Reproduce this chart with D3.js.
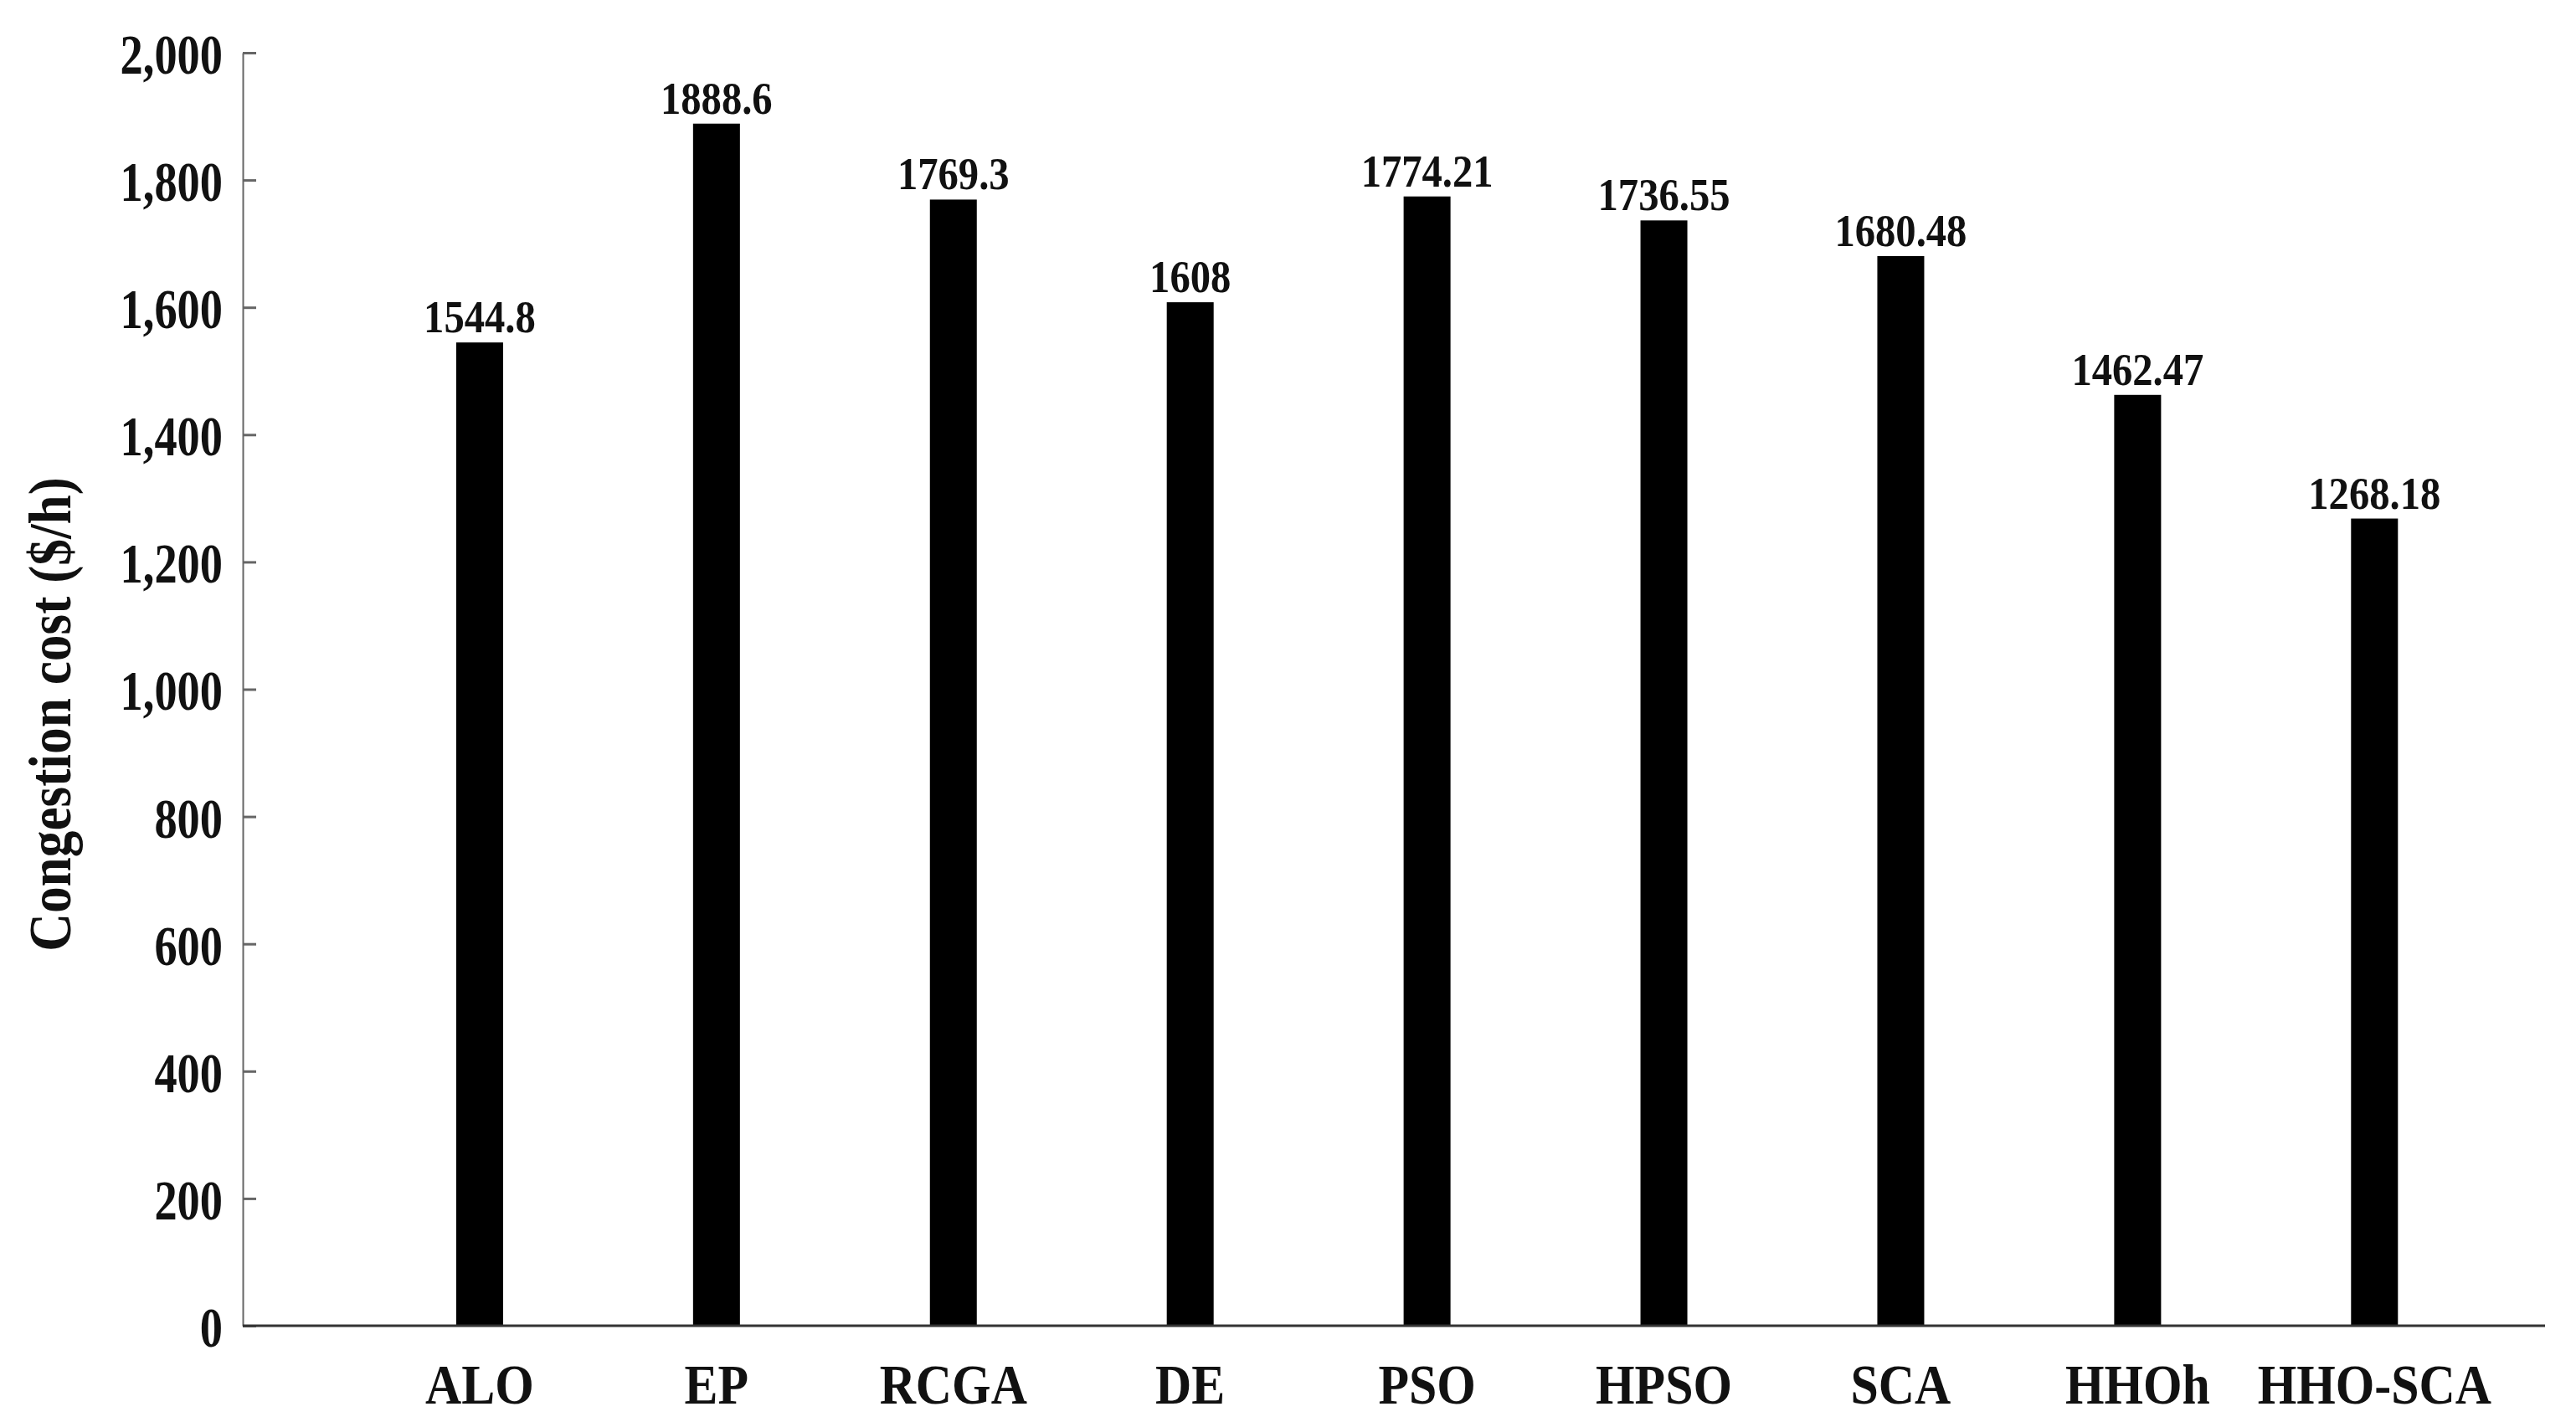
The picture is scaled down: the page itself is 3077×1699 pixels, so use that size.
<!DOCTYPE html>
<html>
<head>
<meta charset="utf-8">
<script src="https://cdn.jsdelivr.net/npm/d3@7"></script>
<style>
body { margin: 0; background: #fff; }
text { font-family: "Liberation Serif", "Times New Roman", serif; font-weight: bold; fill: #111; }
</style>
</head>
<body>
<svg id="chart" width="3077" height="1699"></svg>
<script>
const categories = ["ALO", "EP", "RCGA", "DE", "PSO", "HPSO", "SCA", "HHOh", "HHO-SCA"]
const costs = [1544.8, 1888.6, 1769.3, 1608, 1774.21, 1736.55, 1680.48, 1462.47, 1268.18]
const costLabels = ["1544.8", "1888.6", "1769.3", "1608", "1774.21", "1736.55", "1680.48", "1462.47", "1268.18"]
const yTicks = [0, 200, 400, 600, 800, 1000, 1200, 1400, 1600, 1800, 2000]

const svg = d3.select("#chart")
const x = d3.scaleLinear().domain([0, 9.72]).range([290, 3040])
const y = d3.scaleLinear().domain([0, 2000]).range([1584, 63])
const barW = 56

// squeeze text horizontally (condensed look of the original)
const squeeze = (sel, k) => {
	sel.each(function () {
		const w = this.getComputedTextLength()
		d3.select(this).attr("textLength", w * k).attr("lengthAdjust", "spacingAndGlyphs")
	})
}

// bars
svg.selectAll("rect.bar").data(costs).enter().append("rect")
	.attr("class", "bar")
	.attr("x", (d, i) => x(i + 1) - barW / 2)
	.attr("y", d => y(d))
	.attr("width", barW)
	.attr("height", d => y(0) - y(d))
	.attr("fill", "#000")

// value labels
svg.selectAll("text.val").data(costs).enter().append("text")
	.attr("class", "val")
	.attr("x", (d, i) => x(i + 1))
	.attr("y", d => y(d) - 12)
	.attr("text-anchor", "middle")
	.attr("font-size", 54)
	.text((d, i) => costLabels[i])
	.call(squeeze, 0.9)

// y axis
const yAxis = svg.append("g").attr("transform", "translate(290,0)")
	.call(d3.axisLeft(y).tickValues(yTicks).tickSizeInner(-16).tickSizeOuter(0).tickPadding(24))
yAxis.select(".domain").attr("stroke", "#666").attr("stroke-width", 2)
yAxis.selectAll(".tick line").attr("stroke", "#666").attr("stroke-width", 3)
yAxis.selectAll(".tick text").attr("font-size", 68).attr("font-family", "Liberation Serif").attr("font-weight", "bold").attr("fill", "#111")
	.attr("dy", "0.36em").call(squeeze, 0.8)

// x axis line
svg.append("line").attr("x1", 290).attr("x2", 3040).attr("y1", y(0)).attr("y2", y(0))
	.attr("stroke", "#333").attr("stroke-width", 3)

// category labels
svg.selectAll("text.cat").data(categories).enter().append("text")
	.attr("class", "cat")
	.attr("x", (d, i) => x(i + 1))
	.attr("y", 1677)
	.attr("text-anchor", "middle")
	.attr("font-size", 68)
	.text(d => d)
	.call(squeeze, 0.88)

// y title
svg.append("text")
	.attr("transform", "translate(84," + ((y(0) + y(2000)) / 2 + 30) + ") rotate(-90)")
	.attr("text-anchor", "middle")
	.attr("font-size", 72)
	.text("Congestion cost ($/h)")
	.call(squeeze, 0.88)
</script>
</body>
</html>
